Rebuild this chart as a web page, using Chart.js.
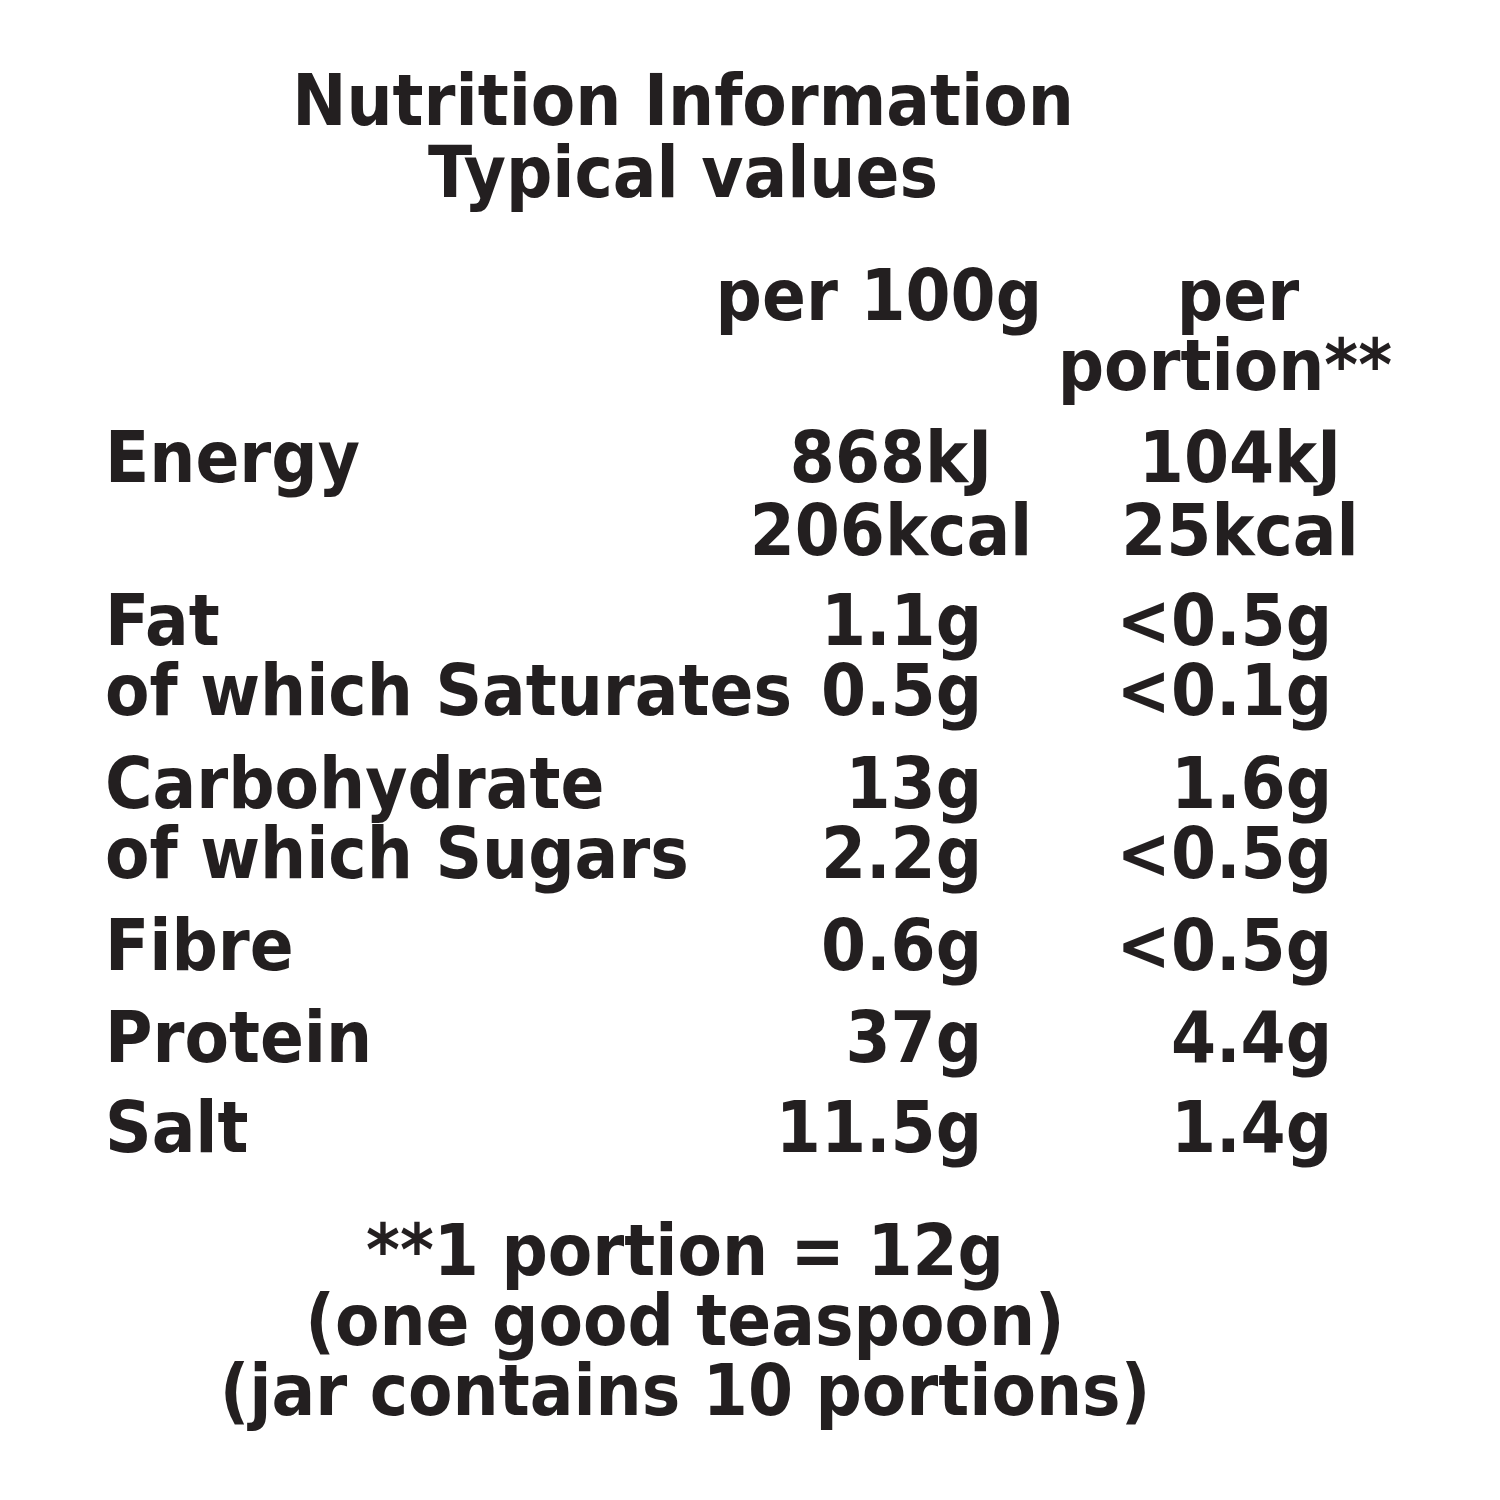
<!DOCTYPE html>
<html><head><meta charset="utf-8">
<script src="https://cdn.jsdelivr.net/npm/chart.js@4"></script>
<style>html,body{margin:0;padding:0;background:#fff}#w{width:1500px;height:1500px}</style>
</head><body><div id="w"><canvas id="c"></canvas></div>
<script>
const titleLines = ["Nutrition Information", "Typical values"];
const headers100 = ["per 100g"];
const headersPortion = ["per", "portion**"];
const nutrients = ["Energy", "", "Fat", "of which Saturates", "Carbohydrate", "of which Sugars", "Fibre", "Protein", "Salt"];
const per100g = ["868kJ", "206kcal", "1.1g", "0.5g", "13g", "2.2g", "0.6g", "37g", "11.5g"];
const perPortion = ["104kJ", "25kcal", "<0.5g", "<0.1g", "1.6g", "<0.5g", "<0.5g", "4.4g", "1.4g"];
const footnote = ["**1 portion = 12g", "(one good teaspoon)", "(jar contains 10 portions)"];

const rowY = [482, 555, 645, 715, 808, 878, 970, 1062, 1152];
const FONT = "bold 72px 'Liberation Sans Narrow','DejaVu Sans Condensed',sans-serif";

const tablePlugin = {
  id: 'table',
  afterDraw(chart) {
    const ctx = chart.ctx;
    ctx.save();
    ctx.fillStyle = '#231f20';
    ctx.font = FONT;
    ctx.textBaseline = 'alphabetic';
    const fit = (t, x, y, align, w) => { ctx.textAlign = align; ctx.fillText(t, x, y, w); };
    ctx.textAlign = 'center';
    ctx.fillText(titleLines[0], 683, 125);
    ctx.fillText(titleLines[1], 683, 197);
    fit(headers100[0], 1042, 320, 'right');
    fit(headersPortion[0], 1238, 320, 'center');
    fit(headersPortion[1], 1392, 390, 'right');
    nutrients.forEach((n, i) => {
      if (n) fit(n, 105, rowY[i], 'left');
      if (i < 2) {
        fit(per100g[i], 891, rowY[i], 'center');
        fit(perPortion[i], 1240, rowY[i], 'center');
      } else {
        fit(per100g[i], 982, rowY[i], 'right');
        fit(perPortion[i], 1332, rowY[i], 'right');
      }
    });
    footnote.forEach((t, i) => fit(t, 685, 1275 + i * 70, 'center'));
    ctx.restore();
  }
};

new Chart(document.getElementById('c'), {
  type: 'bar',
  data: { labels: nutrients, datasets: [{ data: [], backgroundColor: 'transparent' }] },
  options: {
    responsive: true, maintainAspectRatio: false, animation: false,
    plugins: { legend: { display: false }, tooltip: { enabled: false } },
    scales: { x: { display: false }, y: { display: false } }
  },
  plugins: [tablePlugin]
});
</script></body></html>
